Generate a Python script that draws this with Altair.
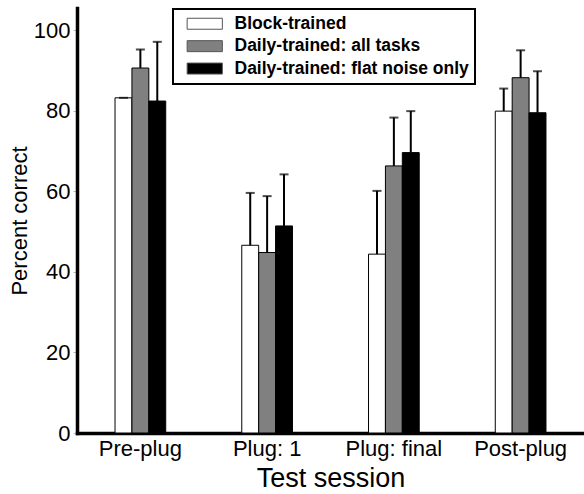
import altair as alt
import pandas as pd

# Test sessions on the x axis and training groups within each session
sessions = ["Pre-plug", "Plug: 1", "Plug: final", "Post-plug"]
groups = ["Block-trained", "Daily-trained: all tasks", "Daily-trained: flat noise only"]
colors = ["#ffffff", "#808080", "#000000"]

# Mean percent correct per group, in session order
block_mean = [83.2, 46.6, 44.4, 79.9]
daily_all_mean = [90.6, 44.8, 66.3, 88.2]
daily_flat_mean = [82.4, 51.4, 69.6, 79.5]

# Upper error bar length (percent) per group, in session order
block_err = [0.0, 13.0, 15.7, 5.6]
daily_all_err = [4.6, 14.0, 12.0, 6.8]
daily_flat_err = [14.7, 12.8, 10.3, 10.3]

means = [block_mean, daily_all_mean, daily_flat_mean]
errs = [block_err, daily_all_err, daily_flat_err]

rows = []
for g, m_list, e_list in zip(groups, means, errs):
    for s, m, e in zip(sessions, m_list, e_list):
        rows.append({"session": s, "group": g, "mean": m, "err": e})
df = pd.DataFrame(rows)

x_enc = alt.X(
    "session:N",
    sort=sessions,
    title="Test session",
    scale=alt.Scale(paddingInner=0.6, paddingOuter=0.3),
    axis=alt.Axis(
        labelAngle=0,
        ticks=False,
        labelPadding=5,
        labelFontSize=22,
        titleFontSize=27,
        titlePadding=6,
    ),
)
offset_enc = alt.XOffset(
    "group:N", sort=groups, scale=alt.Scale(paddingInner=0, paddingOuter=0)
)
y_scale = alt.Scale(domain=[0, 105.5], nice=False)

bars = (
    alt.Chart(df)
    .mark_bar(stroke="#000000", strokeWidth=1)
    .encode(
        x=x_enc,
        xOffset=offset_enc,
        y=alt.Y(
            "mean:Q",
            scale=y_scale,
            title="Percent correct",
            axis=alt.Axis(
                values=[0, 20, 40, 60, 80, 100],
                labelFontSize=22,
                titleFontSize=22,
                tickSize=4,
                tickColor="#bbbbbb",
                labelPadding=3,
                titlePadding=2,
            ),
        ),
        fill=alt.Fill(
            "group:N",
            sort=groups,
            scale=alt.Scale(domain=groups, range=colors),
            legend=alt.Legend(
                title=None,
                orient="none",
                legendX=96,
                legendY=1,
                symbolType="M-2.4,-0.75H2.4V0.75H-2.4Z",
                symbolSize=215,
                symbolStrokeColor="#555555",
                symbolStrokeWidth=1,
                symbolOffset=17,
                labelOffset=21,
                labelFontSize=17.5,
                labelFontWeight="bold",
                labelColor="#000000",
                labelLimit=320,
                rowPadding=3.4,
                padding=6,
                strokeColor="#000000",
            ),
        ),
    )
)

err_base = alt.Chart(df).transform_calculate(upper="datum.mean + datum.err")

err_lines = err_base.mark_rule(color="#000000", strokeWidth=2).encode(
    x=x_enc,
    xOffset=offset_enc,
    y=alt.Y("mean:Q", scale=y_scale),
    y2="upper:Q",
)

err_caps = err_base.mark_tick(color="#000000", thickness=2, size=9).encode(
    x=x_enc,
    xOffset=offset_enc,
    y=alt.Y("upper:Q", scale=y_scale),
)

chart = (
    alt.layer(bars, err_lines, err_caps)
    .properties(
        width=507,
        height=425,
        autosize=alt.AutoSizeParams(type="none"),
        padding={"left": 77, "top": 8, "right": 0, "bottom": 61},
    )
    .configure(font="Liberation Sans")
    .configure_view(stroke=None)
    .configure_axis(
        grid=False,
        domainColor="#000000",
        domainWidth=3.5,
        domainCap="square",
        labelColor="#000000",
        titleColor="#000000",
        titleFontWeight="normal",
        labelFont="Liberation Sans",
        titleFont="Liberation Sans",
    )
    .configure_legend(strokeWidth=2, labelFont="Liberation Sans")
)

chart.save("out.html", embed_options={"renderer": "svg", "actions": False})
